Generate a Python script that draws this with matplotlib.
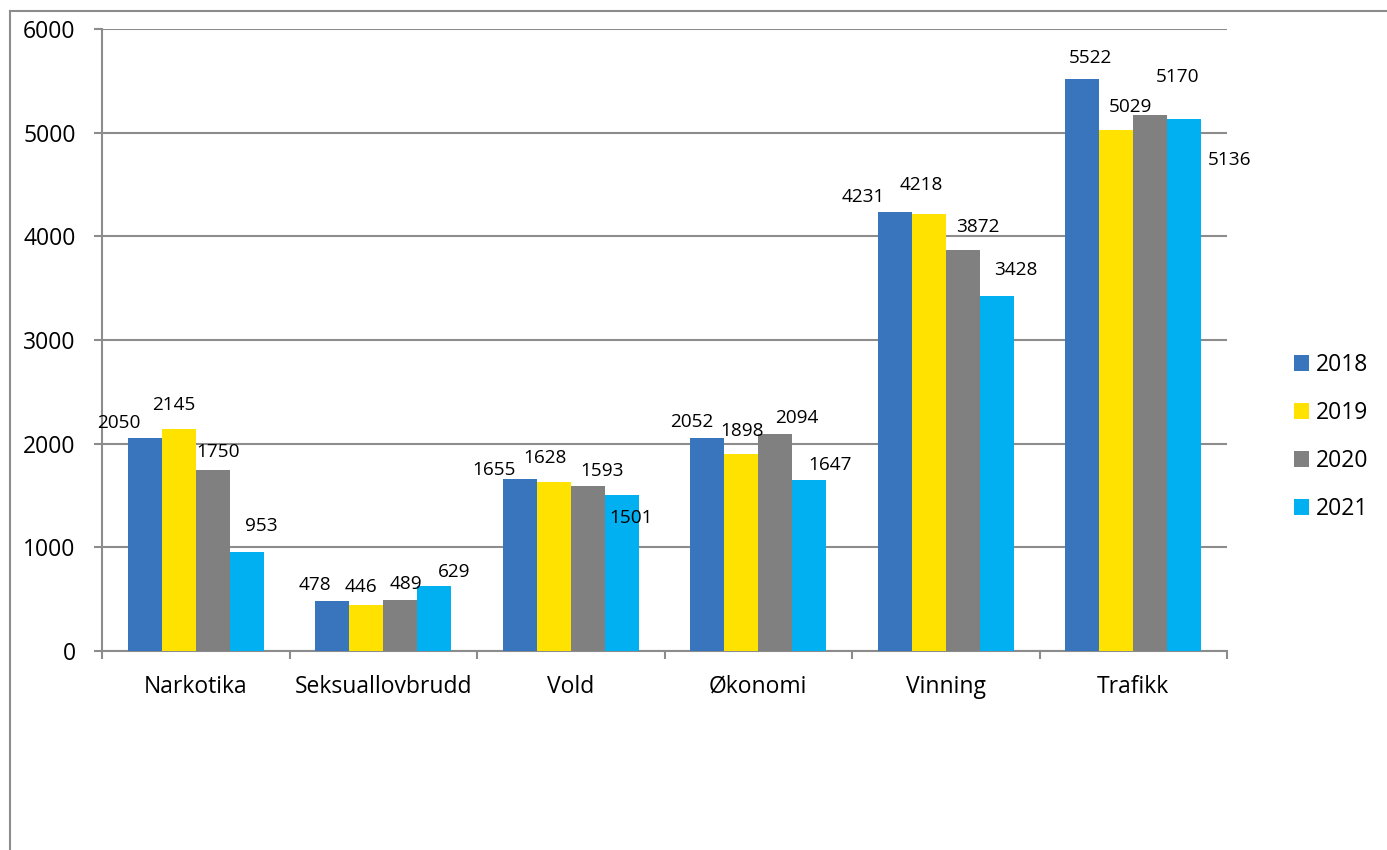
import numpy as np
import matplotlib.pyplot as plt
from matplotlib.lines import Line2D

plt.rcParams['font.family'] = ['Open Sans', 'DejaVu Sans']

# data
categories = ['Narkotika', 'Seksuallovbrudd', 'Vold', 'Økonomi', 'Vinning', 'Trafikk']
years = ['2018', '2019', '2020', '2021']
v2018 = [2050, 478, 1655, 2052, 4231, 5522]
v2019 = [2145, 446, 1628, 1898, 4218, 5029]
v2020 = [1750, 489, 1593, 2094, 3872, 5170]
v2021 = [953, 629, 1501, 1647, 3428, 5136]
series = [v2018, v2019, v2020, v2021]

colors = ['#3875BD', '#FFE200', '#808080', '#00B0F0']
grid_col = '#8C8C8C'

# label offsets in pixels (dx, dy from bar top), hand placed like in the original
label_offsets = [
    [(-26, 15), (-17, 16), (-26, 9), (-16, 16), (-31, 15), (8, 21)],
    [(-5, 24), (-5, 18), (-9, 24), (1, 23), (-7, 29), (14, 23)],
    [(5, 18), (6, 16), (14, 15), (22, 16), (15, 23), (27, 38)],
    [(15, 26), (20, 14), (9, -23), (21, 15), (19, 26), (45, -41)],
]

W, H = 1387, 850
fig = plt.figure(figsize=(W / 100, H / 100), dpi=100)
ax = fig.add_axes([102 / W, 1 - 651 / H, (1227 - 102) / W, (651 - 29) / H])

x = np.arange(len(categories))
bw = 0.1813
for i, vals in enumerate(series):
    pos = x + (i - 1.5) * bw
    ax.bar(pos, vals, width=bw, color=colors[i], label=years[i], zorder=3)
    for j, v in enumerate(vals):
        dx, dy = label_offsets[i][j]
        ax.annotate(str(v), (pos[j], v), xytext=(dx, dy), textcoords='offset pixels',
                    ha='center', va='center', fontsize=13.7, color='black', zorder=4)

ax.set_xlim(-0.5, len(categories) - 0.5)
ax.set_ylim(0, 6000)
ax.set_yticks(np.arange(0, 6001, 1000))
ax.yaxis.grid(True, color=grid_col, linewidth=1.5, zorder=0)

# ticks between categories, names in the middle
ax.set_xticks(np.arange(-0.5, len(categories), 1.0))
ax.set_xticklabels([])
ax.set_xticks(x, minor=True)
ax.set_xticklabels(categories, minor=True)
ax.tick_params(axis='x', which='major', length=6, width=1.5, color=grid_col)
ax.tick_params(axis='x', which='minor', length=0, pad=17, labelsize=16.5)
ax.tick_params(axis='y', length=6, width=1.5, color=grid_col, pad=13, labelsize=16.5)

for s in ['top', 'right']:
    ax.spines[s].set_visible(False)
for s in ['left', 'bottom']:
    ax.spines[s].set_color(grid_col)
    ax.spines[s].set_linewidth(1.5)

ax.legend(loc='center left', bbox_to_anchor=(1294 / W, 1 - 437 / H),
          bbox_transform=fig.transFigure, frameon=False, fontsize=16.5,
          handlelength=0.65, handleheight=0.65, handletextpad=0.3,
          labelspacing=1.05, borderpad=0, borderaxespad=0)

# outer chart border (cut off at right and bottom)
fig.add_artist(Line2D([10 / W, 10 / W], [0, 1 - 11 / H], color=grid_col, linewidth=1.5))
fig.add_artist(Line2D([10 / W, 1], [1 - 11 / H, 1 - 11 / H], color=grid_col, linewidth=1.5))

fig.savefig('out.png', dpi=100)
